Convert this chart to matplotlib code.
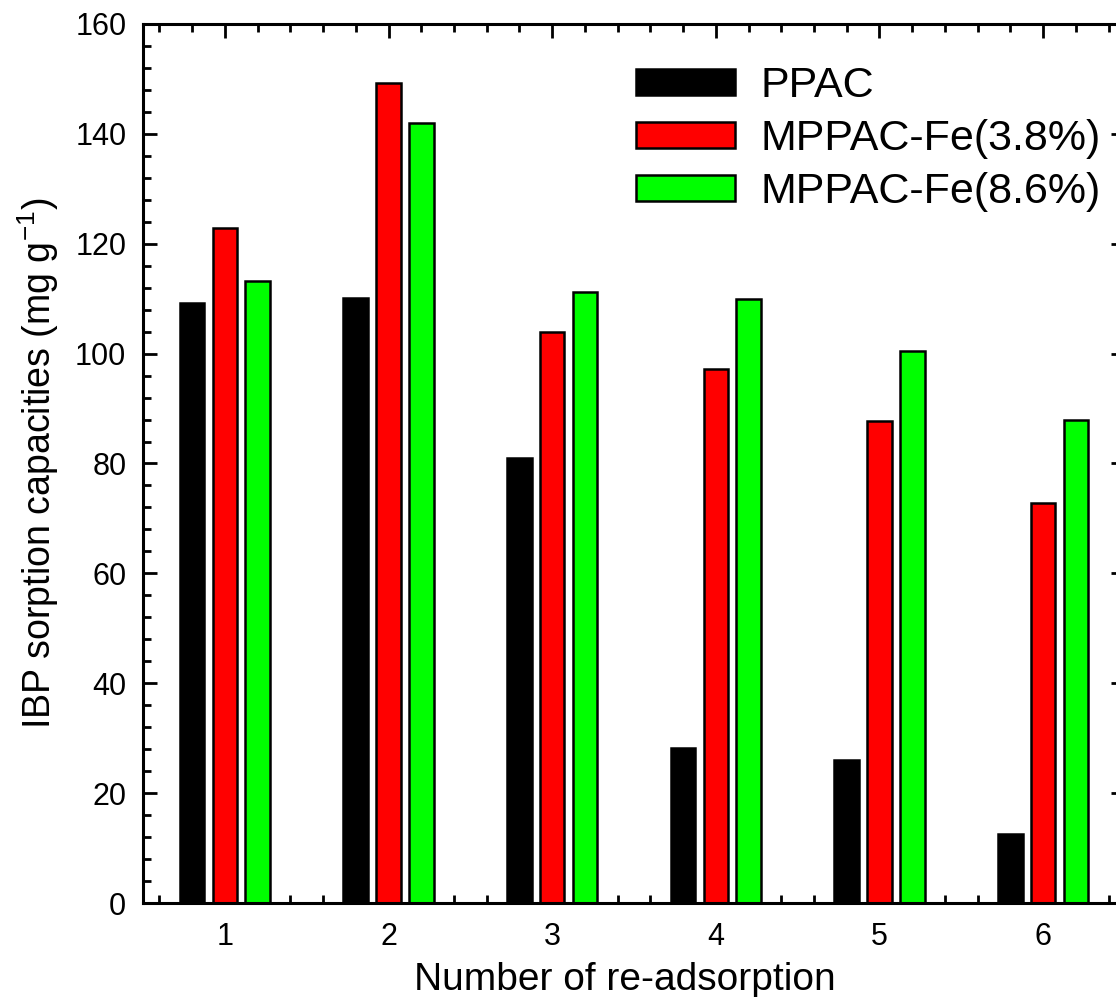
import matplotlib
matplotlib.use("Agg")
import matplotlib.pyplot as plt
import numpy as np
from matplotlib.ticker import MultipleLocator

plt.rcParams['font.family'] = ['Liberation Sans', 'DejaVu Sans']

cycles = [1, 2, 3, 4, 5, 6]
ppac = [109.3, 110.2, 81.0, 28.2, 26.0, 12.5]
mppac_38 = [122.8, 149.3, 104.0, 97.2, 87.7, 72.8]
mppac_86 = [113.2, 141.9, 111.3, 109.9, 100.5, 88.0]
series_names = ["PPAC", "MPPAC-Fe(3.8%)", "MPPAC-Fe(8.6%)"]
colors = ["#000000", "#ff0000", "#00ff00"]

W, H = 1116, 997
fig = plt.figure(figsize=(W / 100, H / 100), dpi=100)
left, right, top, bottom = 143, 1125, 24, 903
ax = fig.add_axes([left / W, (H - bottom) / H, (right - left) / W, (bottom - top) / H])

x = np.array(cycles, dtype=float)
offsets = [-0.2, 0.0, 0.2]
width = 0.15
for vals, off, c, name in zip([ppac, mppac_38, mppac_86], offsets, colors, series_names):
    ax.bar(x + off, vals, width=width, color=c, edgecolor="black", linewidth=1.8, label=name, zorder=3)

ax.set_xlim(0.5, 6.5)
ax.set_ylim(0, 160)
ax.xaxis.set_major_locator(MultipleLocator(1))
ax.xaxis.set_minor_locator(MultipleLocator(0.2))
ax.yaxis.set_major_locator(MultipleLocator(20))
ax.yaxis.set_minor_locator(MultipleLocator(4))
ax.tick_params(which="both", direction="in", top=True, right=True, width=2)
ax.tick_params(which="major", length=10, labelsize=22)
ax.tick_params(axis="x", which="major", pad=14)
ax.tick_params(axis="y", which="major", pad=12)
ax.tick_params(which="minor", length=6)
for s in ax.spines.values():
    s.set_linewidth(2.2)
    s.set_zorder(5)

ax.set_xlabel("Number of re-adsorption", fontsize=28)
ax.xaxis.set_label_coords((625 - left) / (right - left), -0.067)
ax.set_ylabel("IBP sorption capacities (mg g$^{\\mathregular{-1}}$)", fontsize=27, labelpad=10)

leg = ax.legend(loc="upper left", bbox_to_anchor=(636 / W, 1 - 66 / H), bbox_transform=fig.transFigure,
                frameon=False, fontsize=31, handlelength=2.3, handleheight=0.55,
                handletextpad=0.6, labelspacing=0.3, borderpad=0, borderaxespad=0)

fig.savefig("out.png", dpi=100)
